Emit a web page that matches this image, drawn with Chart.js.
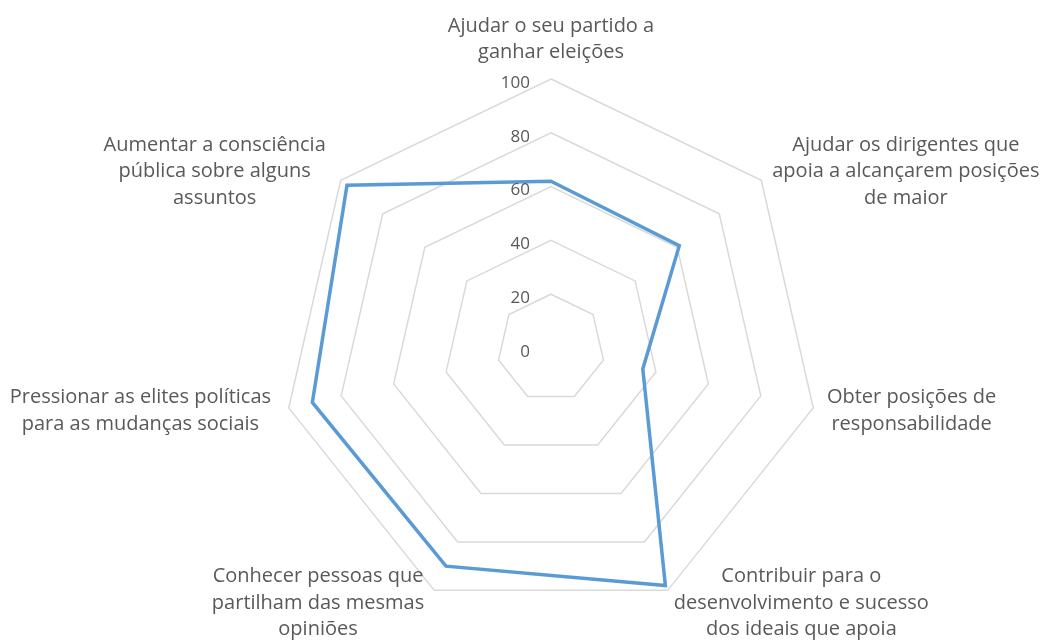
<!DOCTYPE html>
<html>
<head>
<meta charset="utf-8">
<script src="https://cdn.jsdelivr.net/npm/chart.js@4"></script>
<style>
  html, body { margin: 0; padding: 0; background: #ffffff; }
  #wrap { width: 1041px; height: 640px; }
</style>
</head>
<body>
<div id="wrap"><canvas id="c" width="1041" height="640"></canvas></div>
<script>
// ---- data ----
const categories = [
  ["Ajudar o seu partido a", "ganhar eleições"],
  ["Ajudar os dirigentes que", "apoia a alcançarem posições", "de maior"],
  ["Obter posições de", "responsabilidade"],
  ["Contribuir para o", "desenvolvimento e sucesso", "dos ideais que apoia"],
  ["Conhecer pessoas que", "partilham das mesmas", "opiniões"],
  ["Pressionar as elites políticas", "para as mudanças sociais"],
  ["Aumentar a consciência", "pública sobre alguns", "assuntos"]
];
const values = [62, 61, 35, 98, 90, 91, 97];
const tickValues = [0, 20, 40, 60, 80, 100];

// ---- styles ----
const TEXT_COLOR = '#595959';
const LABEL_FONT = '20px "Open Sans", "Noto Sans", sans-serif';
const TICK_FONT = '17px "Open Sans", "Noto Sans", sans-serif';
const LINE_H = 26.5;

const labelPlugin = {
  id: 'excelLabels',
  afterDraw(chart) {
    const scale = chart.scales.r;
    const ctx = chart.ctx;
    ctx.save();
    ctx.fillStyle = TEXT_COLOR;
    // tick labels, right-aligned left of the vertical axis
    ctx.font = TICK_FONT;
    ctx.textAlign = 'right';
    ctx.textBaseline = 'middle';
    tickValues.forEach(v => {
      const d = scale.getDistanceFromCenterForValue(v);
      ctx.fillText(String(v), scale.xCenter - 21, scale.yCenter - d + 4);
    });
    // category labels
    ctx.font = LABEL_FONT;
    ctx.textAlign = 'center';
    const labels = chart.data.labels;
    labels.forEach((lines, i) => {
      const p = scale.getPointPosition(i, scale.drawingArea + 14);
      const maxW = Math.max(...lines.map(l => ctx.measureText(l).width));
      const blockH = lines.length * LINE_H;
      let cx, top;
      const dx = p.x - scale.xCenter;
      if (Math.abs(dx) < 2) {
        cx = p.x;
        top = p.y - blockH + 1;
      } else if (dx > 0) {
        cx = p.x + maxW / 2;
        top = p.y - blockH / 2;
      } else {
        cx = p.x - 4 - maxW / 2;
        top = p.y - blockH / 2;
      }
      lines.forEach((l, k) => {
        ctx.fillText(l, cx, top + LINE_H * (k + 0.5));
      });
    });
    ctx.restore();
  }
};

new Chart(document.getElementById('c'), {
  type: 'radar',
  data: {
    labels: categories,
    datasets: [{
      data: values,
      borderColor: '#5B9BD5',
      borderWidth: 3.5,
      fill: false,
      pointRadius: 0,
      pointHoverRadius: 0,
      tension: 0
    }]
  },
  options: {
    responsive: false,
    animation: false,
    layout: { padding: { left: 62, right: 0, top: 79, bottom: 23 } },
    plugins: { legend: { display: false }, tooltip: { enabled: false } },
    scales: {
      r: {
        min: 0,
        max: 100,
        ticks: { display: false, stepSize: 20 },
        grid: { color: '#d9d9d9', lineWidth: 1.5 },
        angleLines: { display: false },
        pointLabels: { display: false }
      }
    }
  },
  plugins: [labelPlugin]
});
</script>
</body>
</html>
